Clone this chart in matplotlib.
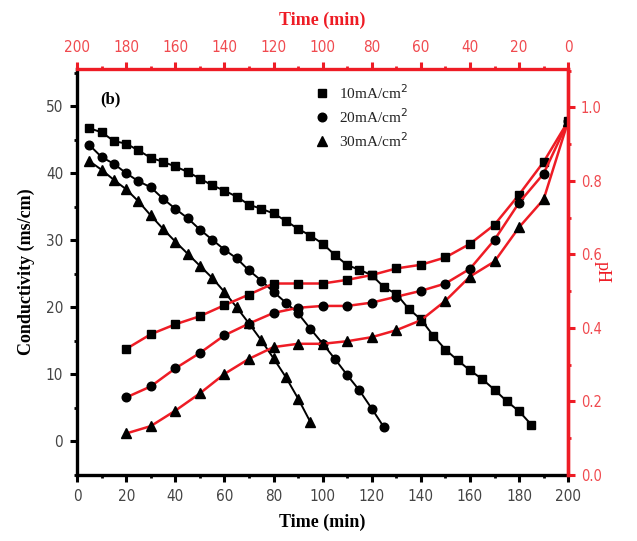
import numpy as np
import matplotlib
matplotlib.use('Agg')
import matplotlib.pyplot as plt
from matplotlib.ticker import MultipleLocator

# conductivity (black) vs time
t_sq = np.arange(5, 190, 5)
cond_10 = [46.7, 46.1, 44.8, 44.4, 43.4, 42.3, 41.7, 41.0, 40.2, 39.2, 38.2, 37.4,
           36.5, 35.3, 34.7, 34.0, 32.9, 31.7, 30.7, 29.5, 27.8, 26.3, 25.6, 24.8,
           23.0, 22.0, 19.8, 18.2, 15.8, 13.7, 12.1, 10.6, 9.3, 7.7, 6.0, 4.5, 2.5]
t_ci = np.arange(5, 130, 5)
cond_20 = [44.2, 42.4, 41.4, 40.0, 38.8, 37.9, 36.2, 34.7, 33.3, 31.6, 30.1, 28.6,
           27.3, 25.5, 24.0, 22.3, 20.7, 19.1, 16.8, 14.6, 12.3, 9.9, 7.6, 4.9, 2.1]
t_tr = np.arange(5, 100, 5)
cond_30 = [41.8, 40.5, 39.0, 37.6, 35.8, 33.7, 31.7, 29.8, 28.0, 26.2, 24.4, 22.3,
           20.0, 17.6, 15.1, 12.4, 9.6, 6.4, 2.9]

# pH (red) vs time on top axis
t_ph = [180, 170, 160, 150, 140, 130, 120, 110, 100, 90, 80, 70, 60, 50, 40, 30, 20, 10, 0]
ph_10 = [0.343, 0.383, 0.410, 0.432, 0.462, 0.491, 0.521, 0.521, 0.521, 0.531, 0.544,
         0.562, 0.572, 0.592, 0.629, 0.681, 0.763, 0.852, 0.963]
ph_20 = [0.211, 0.241, 0.290, 0.332, 0.380, 0.412, 0.441, 0.455, 0.460, 0.460, 0.469,
         0.485, 0.501, 0.521, 0.561, 0.640, 0.741, 0.820, 0.963]
ph_30 = [0.113, 0.133, 0.175, 0.222, 0.275, 0.316, 0.348, 0.357, 0.357, 0.364, 0.375,
         0.394, 0.421, 0.474, 0.540, 0.581, 0.674, 0.750, 0.963]

labels = ['10mA/cm$^2$', '20mA/cm$^2$', '30mA/cm$^2$']
red = '#ee1c25'
red_lab = '#f04a4f'
grey = '#444444'
serif = 'Liberation Serif'

fig = plt.figure(figsize=(6.37, 5.41), dpi=100)
ax = fig.add_axes([0.121, 0.122, 0.771, 0.750])
ax2 = ax.twinx()
ax3 = ax2.twiny()

# black conductivity curves
ax.plot(t_sq, cond_10, 'k-s', lw=1.4, ms=6.2, label=labels[0])
ax.plot(t_ci, cond_20, 'k-o', lw=1.4, ms=6.2, label=labels[1])
ax.plot(t_tr, cond_30, 'k-^', lw=1.4, ms=6.8, label=labels[2])
ax.set_xlim(0, 200)
ax.set_ylim(-5, 55.5)

# red pH curves, black markers
for ph, m in zip([ph_10, ph_20, ph_30], ['s', 'o', '^']):
    ax3.plot(t_ph, ph, color=red, lw=1.8, marker=m, ms=6.2 if m != '^' else 6.8,
             mfc='k', mec='k', zorder=1)
ax3.set_xlim(200, 0)
ax2.set_ylim(0, 1.104)

# ticks
ax.xaxis.set_major_locator(MultipleLocator(20))
ax.xaxis.set_minor_locator(MultipleLocator(10))
ax.yaxis.set_major_locator(MultipleLocator(10))
ax.yaxis.set_minor_locator(MultipleLocator(5))
ax3.xaxis.set_major_locator(MultipleLocator(20))
ax3.xaxis.set_minor_locator(MultipleLocator(10))
ax2.yaxis.set_major_locator(MultipleLocator(0.2))
ax2.yaxis.set_minor_locator(MultipleLocator(0.1))
ax2.yaxis.set_major_formatter(plt.FormatStrFormatter('%.1f'))

ax.tick_params(which='major', direction='out', length=5, width=2.2, labelsize=11,
               colors='k', labelcolor=grey, pad=5)
ax.tick_params(which='minor', direction='out', length=2.5, width=2)
ax3.tick_params(which='major', direction='out', length=5, width=2.2, labelsize=11,
                colors=red, labelcolor=red_lab, pad=5)
ax3.tick_params(which='minor', direction='out', length=2.5, width=2, colors=red)
ax2.tick_params(which='major', direction='out', length=5, width=2.2, labelsize=10.5,
                colors=red, labelcolor=red_lab, pad=4)
ax2.tick_params(which='minor', direction='out', length=2.5, width=2, colors=red)
for a in (ax, ax2, ax3):
    for lab in a.get_xticklabels() + a.get_yticklabels():
        lab.set_family('DejaVu Sans')
        lab.set_stretch('condensed')

# spines
for a in (ax, ax2, ax3):
    for s in a.spines.values():
        s.set_linewidth(2.4)
ax.spines['top'].set_visible(False)
ax.spines['right'].set_visible(False)
ax2.spines['top'].set_visible(False)
ax2.spines['left'].set_visible(False)
ax2.spines['bottom'].set_visible(False)
ax2.spines['right'].set_color(red)
ax3.spines['top'].set_color(red)
ax3.spines['right'].set_color(red)
ax3.spines['left'].set_visible(False)
ax3.spines['bottom'].set_visible(False)

ax.set_xlabel('Time (min)', family=serif, fontsize=13, fontweight='bold', labelpad=7)
ax.set_ylabel('Conductivity (ms/cm)', family=serif, fontsize=13, fontweight='bold', labelpad=8)
ax3.set_xlabel('Time (min)', family=serif, fontsize=13, fontweight='bold', color=red, labelpad=11)
ax2.set_ylabel('pH', family=serif, fontsize=13, color=red, rotation=-90,
               va='bottom', labelpad=-6)

ax.text(0.048, 0.945, '(b)', transform=ax.transAxes, family=serif,
        fontsize=12, fontweight='bold', va='top')
leg = ax.legend(loc='upper left', bbox_to_anchor=(0.455, 1.0), frameon=False,
                prop={'family': serif, 'size': 11}, handlelength=1.0,
                handletextpad=0.6, labelspacing=0.35)
for h in leg.legend_handles:
    h.set_linestyle('none')
for txt in leg.get_texts():
    txt.set_color('#222222')

fig.savefig('out.png', dpi=100)
